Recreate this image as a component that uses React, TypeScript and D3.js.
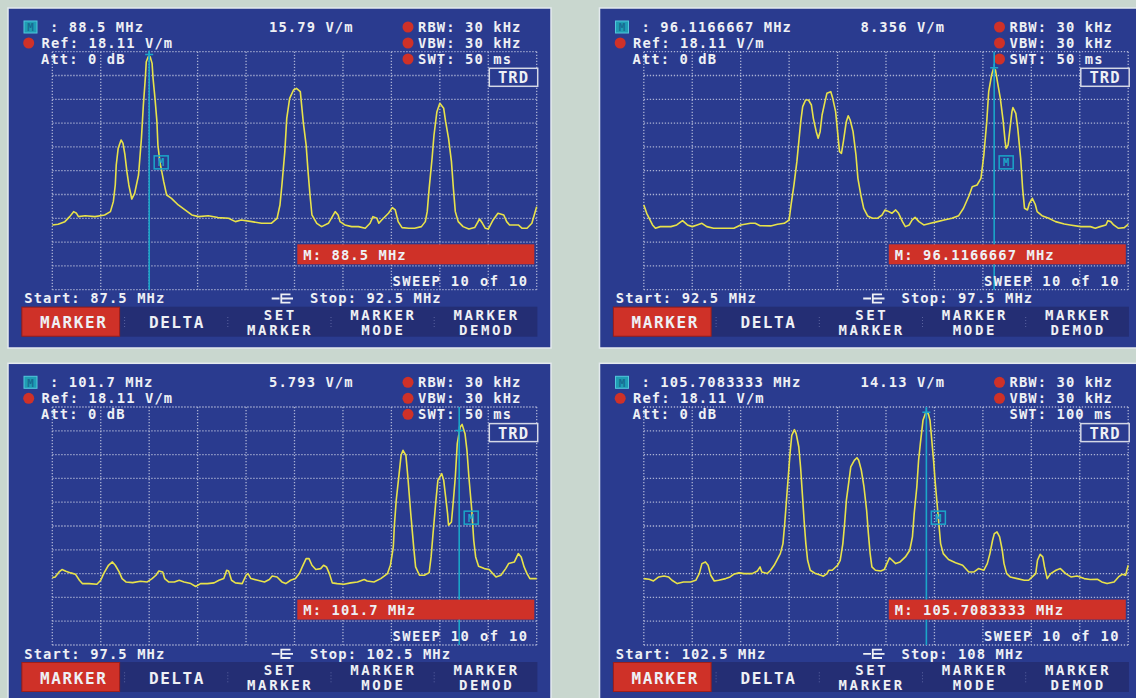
import React from "react";
import * as d3 from "d3";

// ---------- data ----------
const startFreqs = [87.5, 92.5, 97.5, 102.5];
const stopFreqs = [92.5, 97.5, 102.5, 108];
const startLabels = ["87.5", "92.5", "97.5", "102.5"];
const stopLabels = ["92.5", "97.5", "102.5", "108"];
const markerFreqs = [88.5, 96.1166667, 101.7, 105.7083333];
const markerLabels = ["88.5", "96.1166667", "101.7", "105.7083333"];
const markerValues = [15.79, 8.356, 5.793, 14.13];
const markerValueLabels = ["15.79", "8.356", "5.793", "14.13"];
const sweepTimes = [50, 50, 50, 100];
const swtDot = [true, true, true, false];
const refLevel = 18.11;
const refLabel = "18.11";
const rbwKHz = 30;
const vbwKHz = 30;
const attDb = 0;
const sweepCount = 10;
const markerBoxLevel = -46.5; // dB rel. ref where the "M" tag sits
const softkeys = [["MARKER"], ["DELTA"], ["SET", "MARKER"], ["MARKER", "MODE"], ["MARKER", "DEMOD"]];

// traces: [MHz, dB relative to reference level] (10 dB / div)
const trace1: [number, number][] = [
  [87.50,-72.8],[87.56,-72.5],[87.63,-71.4],[87.68,-69.3],[87.72,-67.2],[87.75,-67.9],[87.77,-69.3],[87.84,-68.9],
  [87.94,-69.3],[88.04,-68.6],[88.10,-67.2],[88.13,-63.0],[88.15,-56.0],[88.16,-47.6],[88.18,-40.6],[88.21,-37.1],
  [88.23,-38.5],[88.25,-43.4],[88.27,-50.4],[88.29,-56.0],[88.32,-61.9],[88.35,-59.5],[88.39,-51.8],[88.42,-36.4],
  [88.44,-22.4],[88.46,-11.2],[88.47,-4.2],[88.49,-2.1],[88.51,-2.1],[88.53,-4.9],[88.54,-11.2],[88.56,-19.6],
  [88.58,-29.4],[88.59,-39.2],[88.61,-46.2],[88.63,-50.4],[88.65,-54.6],[88.68,-60.2],[88.73,-61.6],[88.80,-64.4],
  [88.87,-66.5],[88.94,-68.6],[89.01,-69.3],[89.11,-68.9],[89.21,-69.7],[89.32,-70.0],[89.39,-71.4],[89.45,-70.7],
  [89.56,-71.4],[89.66,-72.1],[89.76,-72.1],[89.82,-70.0],[89.85,-64.4],[89.87,-56.0],[89.90,-42.0],[89.92,-28.0],
  [89.95,-19.6],[89.99,-16.1],[90.02,-15.4],[90.06,-16.8],[90.07,-21.0],[90.09,-29.4],[90.12,-39.2],[90.14,-50.4],
  [90.16,-60.2],[90.18,-68.6],[90.23,-72.1],[90.28,-73.5],[90.35,-72.1],[90.38,-70.0],[90.42,-67.2],[90.45,-68.6],
  [90.47,-71.4],[90.52,-72.8],[90.59,-73.5],[90.66,-73.5],[90.73,-74.2],[90.78,-72.1],[90.81,-69.3],[90.85,-70.0],
  [90.87,-72.1],[90.90,-70.7],[90.97,-67.9],[91.01,-65.5],[91.04,-66.5],[91.07,-71.4],[91.11,-73.9],[91.18,-74.2],
  [91.24,-74.2],[91.31,-73.5],[91.35,-71.4],[91.37,-67.2],[91.39,-57.4],[91.42,-44.8],[91.44,-35.0],[91.47,-25.2],
  [91.50,-21.7],[91.54,-23.8],[91.56,-29.4],[91.59,-36.4],[91.62,-46.2],[91.64,-57.4],[91.66,-67.2],[91.69,-71.4],
  [91.74,-73.5],[91.80,-74.5],[91.86,-73.9],[91.91,-70.3],[91.94,-72.1],[91.97,-74.2],[92.00,-74.5],[92.05,-70.7],
  [92.10,-67.9],[92.16,-68.6],[92.19,-71.4],[92.22,-72.8],[92.28,-72.8],[92.31,-72.8],[92.35,-74.2],[92.40,-74.2],
  [92.45,-72.1],[92.48,-67.9],[92.50,-65.1],
];

const trace2: [number, number][] = [
  [92.50,-64.4],[92.53,-67.9],[92.59,-72.8],[92.62,-74.2],[92.67,-73.5],[92.78,-73.5],[92.84,-72.8],[92.90,-71.0],
  [92.95,-72.8],[93.00,-73.5],[93.05,-72.8],[93.10,-72.1],[93.15,-73.5],[93.22,-74.2],[93.33,-74.2],[93.43,-74.2],
  [93.50,-72.8],[93.60,-72.1],[93.65,-72.1],[93.70,-73.1],[93.81,-73.2],[93.88,-72.5],[93.95,-72.1],[94.00,-70.7],
  [94.02,-64.4],[94.05,-56.0],[94.08,-46.2],[94.10,-37.8],[94.12,-29.4],[94.14,-23.1],[94.17,-20.3],[94.20,-20.3],
  [94.23,-22.4],[94.25,-28.0],[94.28,-33.6],[94.30,-36.4],[94.32,-33.6],[94.34,-26.6],[94.37,-21.0],[94.39,-17.5],
  [94.43,-16.8],[94.45,-19.6],[94.48,-25.2],[94.50,-33.6],[94.52,-42.0],[94.54,-42.7],[94.56,-37.8],[94.59,-29.4],
  [94.61,-26.9],[94.63,-28.7],[94.66,-33.6],[94.69,-43.4],[94.71,-53.2],[94.74,-60.2],[94.77,-65.8],[94.81,-69.0],
  [94.86,-70.0],[94.91,-70.0],[94.96,-68.6],[94.99,-66.5],[95.03,-67.2],[95.06,-67.9],[95.10,-66.5],[95.13,-67.9],
  [95.17,-71.4],[95.20,-73.5],[95.24,-72.8],[95.27,-70.7],[95.30,-69.6],[95.34,-71.4],[95.39,-72.8],[95.46,-72.1],
  [95.53,-71.4],[95.60,-70.7],[95.68,-70.0],[95.75,-68.9],[95.80,-65.8],[95.86,-60.2],[95.89,-56.7],[95.94,-56.0],
  [95.98,-53.2],[96.01,-43.4],[96.04,-29.4],[96.06,-16.8],[96.09,-9.8],[96.11,-7.0],[96.13,-7.7],[96.15,-12.6],
  [96.18,-19.6],[96.21,-29.4],[96.23,-37.8],[96.24,-40.6],[96.26,-39.2],[96.28,-32.2],[96.30,-25.2],[96.31,-23.5],
  [96.34,-25.9],[96.36,-32.2],[96.39,-44.8],[96.41,-57.4],[96.43,-65.8],[96.46,-66.5],[96.48,-63.7],[96.51,-61.6],
  [96.54,-64.1],[96.56,-67.2],[96.61,-68.9],[96.68,-70.0],[96.75,-71.4],[96.84,-72.4],[96.90,-72.8],[97.01,-73.5],
  [97.11,-73.5],[97.16,-74.2],[97.21,-73.5],[97.27,-72.8],[97.29,-71.0],[97.32,-71.4],[97.35,-72.8],[97.40,-74.2],
  [97.46,-73.9],[97.50,-72.5],
];

const trace3: [number, number][] = [
  [97.50,-71.7],[97.53,-71.4],[97.57,-69.3],[97.60,-68.3],[97.64,-69.0],[97.69,-69.7],[97.74,-70.3],[97.78,-72.8],
  [97.81,-74.2],[97.88,-74.2],[97.96,-74.5],[98.00,-72.8],[98.03,-70.0],[98.08,-66.5],[98.12,-65.1],[98.15,-66.5],
  [98.19,-69.3],[98.22,-72.1],[98.26,-73.5],[98.33,-73.8],[98.41,-73.2],[98.48,-73.5],[98.53,-72.1],[98.57,-70.7],
  [98.60,-68.9],[98.64,-69.3],[98.66,-72.1],[98.70,-73.5],[98.76,-73.5],[98.81,-72.8],[98.86,-73.5],[98.93,-74.2],
  [98.98,-75.4],[99.03,-74.2],[99.10,-74.2],[99.17,-73.9],[99.22,-72.8],[99.27,-72.1],[99.30,-68.6],[99.32,-68.9],
  [99.35,-72.8],[99.39,-73.9],[99.46,-74.2],[99.50,-70.7],[99.52,-70.0],[99.55,-72.1],[99.62,-72.8],[99.69,-73.5],
  [99.74,-72.5],[99.77,-71.0],[99.82,-71.4],[99.87,-73.5],[99.91,-74.2],[99.96,-72.8],[100.01,-72.1],[100.05,-70.0],
  [100.08,-67.2],[100.12,-63.7],[100.15,-63.7],[100.18,-66.5],[100.22,-68.3],[100.27,-67.9],[100.30,-66.5],[100.33,-67.2],
  [100.36,-70.0],[100.39,-73.9],[100.44,-74.2],[100.51,-74.5],[100.58,-73.9],[100.65,-73.5],[100.72,-72.5],[100.75,-73.1],
  [100.82,-73.5],[100.89,-72.1],[100.96,-70.0],[100.99,-66.5],[101.02,-58.8],[101.03,-50.4],[101.05,-39.2],[101.08,-28.0],
  [101.10,-20.3],[101.12,-18.2],[101.15,-20.3],[101.17,-29.4],[101.20,-44.8],[101.23,-58.8],[101.25,-67.2],[101.29,-70.7],
  [101.34,-70.7],[101.39,-69.6],[101.41,-63.0],[101.43,-53.2],[101.46,-39.2],[101.48,-30.8],[101.52,-28.0],[101.54,-30.8],
  [101.56,-37.8],[101.58,-44.8],[101.59,-49.7],[101.62,-48.3],[101.64,-39.2],[101.66,-29.4],[101.68,-15.4],[101.71,-8.4],
  [101.73,-7.3],[101.76,-11.2],[101.78,-18.2],[101.80,-29.4],[101.83,-43.4],[101.85,-56.0],[101.87,-63.0],[101.90,-66.9],
  [101.96,-67.9],[102.01,-68.3],[102.04,-69.7],[102.08,-71.4],[102.13,-70.7],[102.18,-67.9],[102.21,-65.8],[102.27,-65.1],
  [102.31,-61.6],[102.34,-63.0],[102.37,-67.2],[102.40,-70.0],[102.43,-72.1],[102.50,-72.1],
];

const trace4: [number, number][] = [
  [102.50,-72.1],[102.56,-72.4],[102.61,-73.1],[102.67,-71.4],[102.73,-71.0],[102.78,-71.4],[102.82,-72.8],[102.88,-74.2],
  [102.95,-73.5],[103.03,-73.5],[103.09,-72.8],[103.13,-70.0],[103.16,-65.8],[103.20,-65.1],[103.23,-66.5],[103.26,-70.7],
  [103.30,-73.1],[103.35,-72.8],[103.43,-72.1],[103.48,-71.4],[103.52,-70.3],[103.58,-69.7],[103.64,-70.0],[103.73,-70.0],
  [103.79,-68.9],[103.82,-67.2],[103.84,-69.3],[103.90,-70.0],[103.94,-68.6],[103.98,-66.5],[104.01,-64.4],[104.05,-61.6],
  [104.08,-57.4],[104.10,-49.0],[104.12,-39.2],[104.14,-29.4],[104.16,-19.6],[104.18,-11.9],[104.21,-9.5],[104.23,-11.2],
  [104.26,-16.8],[104.28,-25.2],[104.30,-36.4],[104.32,-47.6],[104.34,-57.4],[104.36,-64.4],[104.39,-68.6],[104.45,-70.0],
  [104.51,-70.7],[104.54,-71.1],[104.58,-70.0],[104.60,-68.6],[104.64,-68.6],[104.70,-66.5],[104.73,-64.4],[104.76,-57.4],
  [104.78,-49.0],[104.80,-39.2],[104.83,-30.8],[104.85,-25.2],[104.89,-22.4],[104.92,-21.3],[104.94,-22.4],[104.97,-26.6],
  [105.00,-33.6],[105.03,-43.4],[105.05,-53.2],[105.07,-61.6],[105.09,-67.2],[105.13,-68.6],[105.19,-68.9],[105.23,-68.3],
  [105.26,-65.8],[105.29,-63.4],[105.32,-64.4],[105.36,-65.8],[105.41,-65.1],[105.47,-63.0],[105.52,-60.2],[105.55,-54.6],
  [105.57,-44.8],[105.60,-33.6],[105.62,-22.4],[105.64,-15.4],[105.67,-5.6],[105.70,-2.5],[105.73,-2.8],[105.75,-5.6],
  [105.77,-14.0],[105.79,-22.4],[105.81,-32.2],[105.83,-40.6],[105.85,-49.0],[105.87,-57.4],[105.90,-61.6],[105.96,-64.1],
  [106.04,-65.4],[106.12,-66.5],[106.19,-69.3],[106.25,-69.3],[106.30,-67.9],[106.36,-68.6],[106.40,-65.8],[106.43,-61.6],
  [106.46,-56.0],[106.48,-53.2],[106.51,-52.5],[106.54,-54.6],[106.57,-60.2],[106.59,-65.8],[106.62,-70.0],[106.66,-71.4],
  [106.74,-72.1],[106.82,-72.8],[106.87,-72.8],[106.91,-71.4],[106.95,-70.0],[106.97,-64.4],[107.00,-61.9],[107.03,-63.0],
  [107.05,-67.2],[107.08,-72.1],[107.12,-70.0],[107.18,-68.6],[107.23,-67.9],[107.29,-70.0],[107.35,-71.4],[107.42,-71.0],
  [107.50,-72.1],[107.57,-72.5],[107.65,-72.4],[107.70,-73.5],[107.76,-74.2],[107.84,-73.5],[107.89,-71.4],[107.93,-70.3],
  [107.97,-70.7],[108.00,-66.5],
];

const traces = [trace1, trace2, trace3, trace4];

// ---------- style ----------
const C = {
  bg: "#c9d7cf",
  panel: "#2a3b8f",
  border: "#e4eaee",
  bar: "#242e74",
  red: "#cf3128",
  redDark: "#9e1f1a",
  text: "#eef0f5",
  grid: "#aab1d4",
  trace: "#e8e24a",
  marker: "#1ba6c9",
};
const FONT = "'DejaVu Sans Mono', monospace";

const PANEL_POS: [number, number][] = [[8, 8], [599.5, 8], [8, 363.3], [599.5, 363.3]];
const PW = 543, PH = 340;
const GX0 = 44.3, GX1 = 528.7, GY0 = 43.7, GY1 = 281.7;

function T(props: any) {
  const { children, size = 13.8, ls = 1.1, ...rest } = props;
  return (
    <text fontFamily={FONT} fontWeight="bold" fontSize={size} fill={C.text}
      style={{ letterSpacing: ls + "px" }} {...rest}>{children}</text>
  );
}

function Panel({ i }: { i: number }) {
  const [px, py] = PANEL_POS[i];
  const x = d3.scaleLinear().domain([startFreqs[i], stopFreqs[i]]).range([GX0, GX1]);
  const y = d3.scaleLinear().domain([-100, 0]).range([GY1, GY0]);
  const line = d3.line<[number, number]>().x(d => x(d[0])).y(d => y(d[1])).curve(d3.curveLinear);
  const span = stopFreqs[i] - startFreqs[i];
  const vTicks = d3.range(11).map(k => startFreqs[i] + (k * span) / 10);
  const hTicks = d3.range(-100, 1, 10);
  const mx = x(markerFreqs[i]);
  const my = y(20 * Math.log10(markerValues[i] / refLevel));
  const boxX = mx + 12, boxY = y(markerBoxLevel);
  const btnW = (529.4 - 13.4) / softkeys.length;
  const rightRows = [
    { t: `RBW: ${rbwKHz} kHz`, dot: true },
    { t: `VBW: ${vbwKHz} kHz`, dot: true },
    { t: `SWT: ${sweepTimes[i]} ms`, dot: swtDot[i] },
  ];
  return (
    <g transform={`translate(${px},${py})`}>
      <rect x={0} y={0} width={PW} height={PH} fill={C.panel} stroke={C.border} strokeWidth={1.5} />
      {/* grid */}
      {vTicks.map((f, k) => (
        <line key={"v" + k} x1={x(f)} x2={x(f)} y1={GY0} y2={GY1} stroke={C.grid} strokeWidth={1.3} strokeDasharray="1.3 1.7" />
      ))}
      {hTicks.map((v, k) => (
        <line key={"h" + k} x1={GX0} x2={GX1} y1={y(v)} y2={y(v)} stroke={C.grid} strokeWidth={1.3} strokeDasharray="1.3 1.7" />
      ))}
      {/* header */}
      <rect x={16} y={13} width={13} height={12} fill="#1f9db4" stroke="#53c8dc" strokeWidth={1} />
      <text x={22.5} y={23.3} fontFamily={FONT} fontWeight="bold" fontSize={11} fill="#176c92" textAnchor="middle">M</text>
      <T x={42} y={24}>{`: ${markerLabels[i]} MHz`}</T>
      <T x={261} y={24}>{`${markerValueLabels[i]} V/m`}</T>
      <circle cx={20.7} cy={35} r={5.5} fill={C.red} />
      <T x={33.5} y={40}>{`Ref: ${refLabel} V/m`}</T>
      <T x={33} y={56}>{`Att: ${attDb} dB`}</T>
      {rightRows.map((r, k) => (
        <g key={"r" + k}>
          {r.dot && <circle cx={400} cy={19 + 16 * k} r={5.5} fill={C.red} />}
          <T x={410} y={24 + 16 * k}>{r.t}</T>
        </g>
      ))}
      <rect x={481.3} y={60.3} width={48.4} height={18} fill={C.panel} stroke="#d4d8e6" strokeWidth={1.5} />
      <T x={505.5} y={75.3} size={15.5} ls={1} textAnchor="middle">TRD</T>
      {/* trace */}
      <path d={line(traces[i]) || ""} fill="none" stroke={C.trace} strokeWidth={1.6} strokeLinejoin="round" />
      {/* marker */}
      <line x1={mx} x2={mx} y1={GY0} y2={GY1} stroke={C.marker} strokeWidth={1.6} />
      <path d={`M${mx - 4},${my}H${mx + 4}M${mx},${my - 4}V${my + 4}`} stroke={C.marker} strokeWidth={1.5} />
      <rect x={boxX - 7} y={boxY - 6.5} width={14} height={13} fill="none" stroke={C.marker} strokeWidth={1.5} />
      <text x={boxX} y={boxY + 4} fontFamily={FONT} fontWeight="bold" fontSize={10.5} fill={C.marker} textAnchor="middle">M</text>
      {/* marker readout */}
      <rect x={289.3} y={236.3} width={237} height={20} fill={C.red} />
      <T x={295.3} y={252}>{`M: ${markerLabels[i]} MHz`}</T>
      <T x={520.5} y={277.5} textAnchor="end" ls={1.4}>{`SWEEP ${sweepCount} of ${sweepCount}`}</T>
      {/* footer */}
      <T x={16.3} y={295.3}>{`Start: ${startLabels[i]} MHz`}</T>
      <path d="M263.7,290.5H271.5M282.5,286.3H273.3V294.7H282.5M273.3,290.5H285" fill="none" stroke={C.text} strokeWidth={1.8} />
      <T x={302} y={295.3}>{`Stop: ${stopLabels[i]} MHz`}</T>
      {/* softkeys */}
      <rect x={13.4} y={298.7} width={516} height={30} fill={C.bar} />
      <rect x={13.9} y={299.2} width={97.7} height={29} fill={C.red} stroke={C.redDark} strokeWidth={1} />
      {softkeys.map((_, k) => k > 0 ? (
        <line key={"s" + k} x1={13.4 + btnW * k} x2={13.4 + btnW * k} y1={309} y2={321} stroke="#5a63a0" strokeWidth={1} strokeDasharray="1 2" />
      ) : null)}
      {softkeys.map((lab, k) => {
        const cx = 13.4 + btnW * (k + 0.5) + 0.8;
        return lab.length === 1 ? (
          <T key={"k" + k} x={cx} y={320.3} size={16} ls={1.6} textAnchor="middle">{lab[0]}</T>
        ) : (
          <g key={"k" + k}>
            <T x={cx} y={312} size={14} ls={2.6} textAnchor="middle">{lab[0]}</T>
            <T x={cx} y={327} size={14} ls={2.6} textAnchor="middle">{lab[1]}</T>
          </g>
        );
      })}
    </g>
  );
}

export default function App() {
  return (
    <svg width={1136} height={698} viewBox="0 0 1136 698"
      style={{ position: "absolute", left: 0, top: 0, display: "block", overflow: "hidden" }}>
      <rect x={0} y={0} width={1136} height={698} fill={C.bg} />
      {[0, 1, 2, 3].map(i => <Panel key={i} i={i} />)}
    </svg>
  );
}
